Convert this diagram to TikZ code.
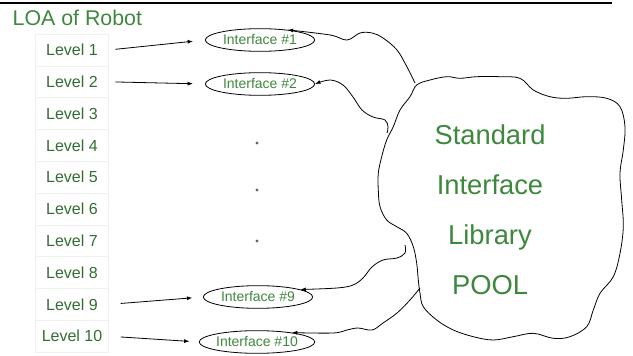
\documentclass[tikz,border=0pt]{standalone}
\usepackage{fontspec}
\setmainfont{Liberation Sans}
\usetikzlibrary{shapes.geometric}
\usetikzlibrary{arrows.meta}

\definecolor{loagreen}{RGB}{62,136,62}

\begin{document}
\begin{tikzpicture}[x=0.75pt, y=-0.75pt,
        lvlcell/.style={draw=gray!12, text=loagreen!80!black, minimum width=54.75pt, minimum height=23.85pt, font=\fontsize{12}{14}\selectfont},
        iface/.style={ellipse, draw, line width=0.6pt, text=loagreen, minimum width=82pt, minimum height=17pt, inner sep=0pt, font=\fontsize{10.5}{12}\selectfont},
        tip/.style={-{Latex[length=4pt,width=3pt]}, line width=0.6pt}]
        \useasboundingbox (0,0) rectangle (633,356);
        \draw[line width=1.4pt] (0,3) -- (612,3);
        \node[anchor=west, text=loagreen, font=\fontsize{16}{18}\selectfont] (title) at (8,18) {LOA of Robot};

        \foreach \i in {1,...,10}
                \node[lvlcell] (lvl\i) at (72, 50+31.8*\i-31.8) {Level \i};

        \node[iface] (if1) at (260,40) {Interface \#1};
        \node[iface] (if2) at (260,84) {Interface \#2};
        \node[iface] (if9) at (258,297) {Interface \#9};
        \node[iface] (if10) at (257,342) {Interface \#10};

        \foreach \y in {143,190,241}
                \fill[gray!80!black] (257,\y) circle (1.2pt);

        \draw[tip, shorten <=5pt, shorten >=9pt] (lvl1.east) -- (if1.west);
        \draw[tip, shorten <=5pt, shorten >=9pt] (lvl2.east) -- (if2.west);
        \draw[tip, shorten <=9pt, shorten >=8pt] (lvl9.east) -- (if9.west);
        \draw[tip, shorten <=9pt, shorten >=7pt] (lvl10.east) -- (if10.west);

        \draw[line width=0.6pt] plot[smooth cycle, tension=0.6] coordinates {
                (416.7,85) (430,80) (446.7,76.7) (460,78.3) (476.7,76.7) (500,76.7)
                (520,78.3) (533.3,90) (550,96.7) (566.7,98.3) (586.7,96.7) (606.7,98.3)
                (620,106.7) (625,126.7) (623.3,150) (620,173.3) (621.7,200) (623.3,226.7)
                (620,253.3) (613.3,276.7) (600,293.3) (593.3,310) (586.7,326.7) (570,336.7)
                (553.3,338.3) (533.3,333.3) (513.3,336.7) (493.3,340) (473.3,336.7) (453.3,330)
                (436.7,320) (423.3,306.7) (420,293.3) (418.3,280) (416.7,263.3) (413.3,246.7)
                (406.7,233.3) (396.7,226.7) (386.7,220) (380,206.7) (378.3,190) (378.3,173.3)
                (381.7,156.7) (386.7,140) (393.3,126.7) (400,110) (410,96.7)};
        \node[text=loagreen, align=center, font=\fontsize{20.5}{37.5}\selectfont] (pool) at (490,210)
                {Standard\\Interface\\Library\\POOL};

        \coordinate (p1) at (415,83);
        \coordinate (p2) at (387,133);
        \coordinate (p9) at (405,245);
        \coordinate (p10) at (420,288);

        \draw[tip] plot[smooth, tension=0.6] coordinates {(p1) (407,67) (397,50) (383,38) (372,33) (360,33) (347,40) (330,35) (if1.20)};
        \draw[tip] plot[smooth, tension=0.6] coordinates {(p2) (388,127) (385,120) (373,117) (362,110) (353,97) (343,85) (330,80) (if2.east)};
        \draw[tip] plot[smooth, tension=0.6] coordinates {(p9) (405,253) (397,258) (383,260) (372,267) (363,278) (353,285) (337,288) (if9.10)};
        \draw[tip] plot[smooth, tension=0.6] coordinates {(p10) (410,300) (397,313) (383,323) (372,330) (358,328) (347,330) (333,333) (if10.15)};
\end{tikzpicture}
\end{document}
